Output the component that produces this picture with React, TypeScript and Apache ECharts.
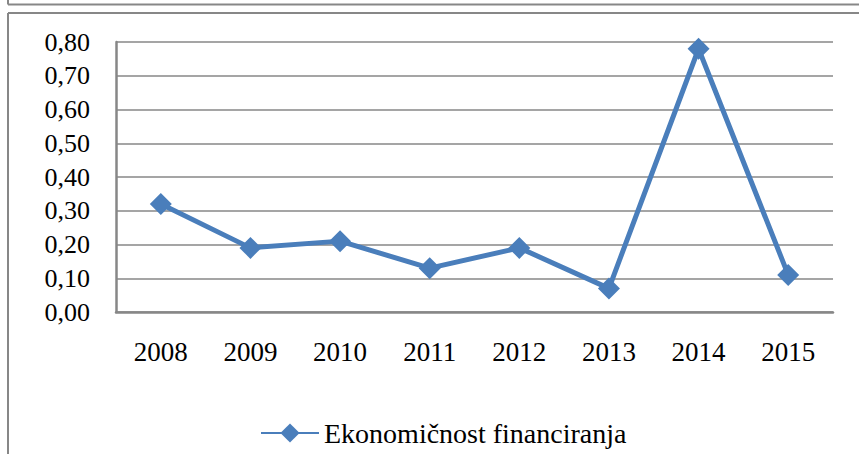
import React, { useEffect, useRef } from "react";
import * as echarts from "echarts";

const categories = ["2008", "2009", "2010", "2011", "2012", "2013", "2014", "2015"];
const values = [0.32, 0.19, 0.21, 0.13, 0.19, 0.07, 0.78, 0.11];
const seriesName = "Ekonomičnost financiranja";

const FONT = "Times New Roman, Liberation Serif, serif";
const BLUE = "#4a7ebb";
const GREY = "#878787";

export default function App() {
  const ref = useRef<HTMLDivElement>(null);
  useEffect(() => {
    if (!ref.current) return;
    const chart = echarts.init(ref.current, null, { renderer: "svg" });
    chart.setOption({
      animation: false,
      backgroundColor: "#ffffff",
      textStyle: { fontFamily: FONT },
      graphic: [
        { type: "line", shape: { x1: 8, y1: 0, x2: 8, y2: 4.5 }, style: { stroke: GREY, lineWidth: 2 } },
        { type: "line", shape: { x1: 8, y1: 4.5, x2: 859, y2: 4.5 }, style: { stroke: GREY, lineWidth: 2 } },
        { type: "line", shape: { x1: 8, y1: 13, x2: 859, y2: 13 }, style: { stroke: GREY, lineWidth: 2 } },
        { type: "line", shape: { x1: 8, y1: 13, x2: 8, y2: 454 }, style: { stroke: GREY, lineWidth: 2 } },
      ],
      grid: { left: 116, right: 26, top: 42, bottom: 142, containLabel: false },
      legend: {
        left: 255,
        top: 414,
        itemWidth: 58,
        itemHeight: 24,
        itemGap: 8,
        textStyle: { fontFamily: FONT, fontSize: 28, color: "#000" },
        data: [{ name: seriesName }],
      },
      xAxis: {
        type: "category",
        data: categories,
        boundaryGap: true,
        axisLine: { lineStyle: { color: GREY, width: 2.5 } },
        axisTick: { show: false },
        axisLabel: { fontFamily: FONT, fontSize: 27, color: "#000", margin: 26 },
        splitLine: { show: false },
      },
      yAxis: {
        type: "value",
        min: 0,
        max: 0.8,
        interval: 0.1,
        axisLine: { show: true, lineStyle: { color: GREY, width: 2.5 } },
        axisTick: { show: false },
        axisLabel: {
          fontFamily: FONT,
          fontSize: 26,
          color: "#000",
          margin: 26,
          formatter: (v: number) => v.toFixed(2).replace(".", ","),
        },
        splitLine: { show: true, lineStyle: { color: GREY, width: 1.5 } },
      },
      series: [
        {
          name: seriesName,
          type: "line",
          data: values,
          symbol: "diamond",
          symbolSize: 22,
          lineStyle: { color: BLUE, width: 5 },
          itemStyle: { color: BLUE },
        },
      ],
    });
    return () => chart.dispose();
  }, []);
  return <div ref={ref} style={{ width: 859, height: 454, position: "absolute", left: 0, top: 0 }} />;
}
